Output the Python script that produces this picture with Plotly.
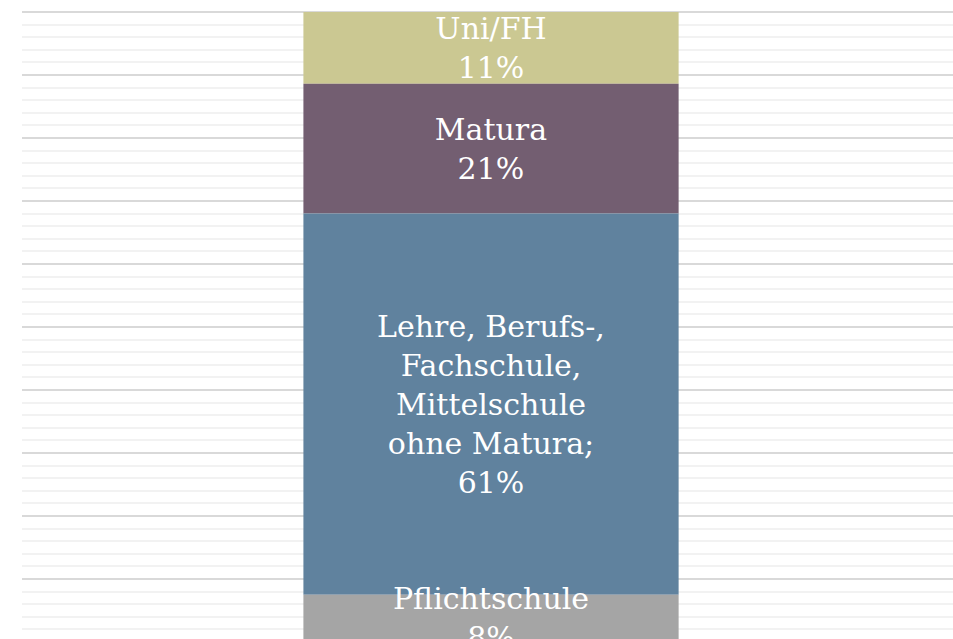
import plotly.graph_objects as go
import numpy as np

# bottom-to-top order
categories = ["Pflichtschule", "Lehre, Berufs-,<br>Fachschule,<br>Mittelschule<br>ohne Matura;", "Matura", "Uni/FH"]
values = [7.5, 60.5, 20.6, 11.4]
pct_labels = ["8%", "61%", "21%", "11%"]
colors = ["#a5a5a5", "#60829e", "#735e71", "#cbc892"]

bases = np.concatenate([[0], np.cumsum(values)[:-1]])
texts = [f"{c}<br>{p}" for c, p in zip(categories, pct_labels)]

# draw top segment first so lower segments' labels sit above upper bars
order = list(range(len(values)))[::-1]

fig = go.Figure(go.Bar(
    x=[0] * len(values),
    y=[values[i] for i in order],
    base=[bases[i] for i in order],
    width=0.4,
    marker=dict(color=[colors[i] for i in order], line=dict(width=0)),
    text=[texts[i] for i in order],
    textposition="inside", insidetextanchor="middle", textangle=0,
    textfont=dict(family="DejaVu Serif", size=30, color="white"),
    showlegend=False, hoverinfo="skip",
))

fig.update_layout(
    barmode="overlay",
    width=953, height=639,
    margin=dict(l=22, r=0, t=11, b=0),
    paper_bgcolor="white", plot_bgcolor="white",
    uniformtext=dict(minsize=30, mode="show"),
    xaxis=dict(range=[-0.5, 0.4925], showticklabels=False, showgrid=False,
               zeroline=False, showline=False, fixedrange=True),
    yaxis=dict(range=[0.476, 100.16], showticklabels=False, showline=False,
               zeroline=False, showgrid=True, dtick=10, tick0=0,
               gridcolor="#d9d9d9", gridwidth=1.5, fixedrange=True,
               minor=dict(dtick=2, showgrid=True, gridcolor="#f2f2f2", gridwidth=1.5)),
)

fig.write_html("out.html", config={"displayModeBar": False},
               post_script="document.body.style.margin='0';document.body.style.overflow='hidden';")
